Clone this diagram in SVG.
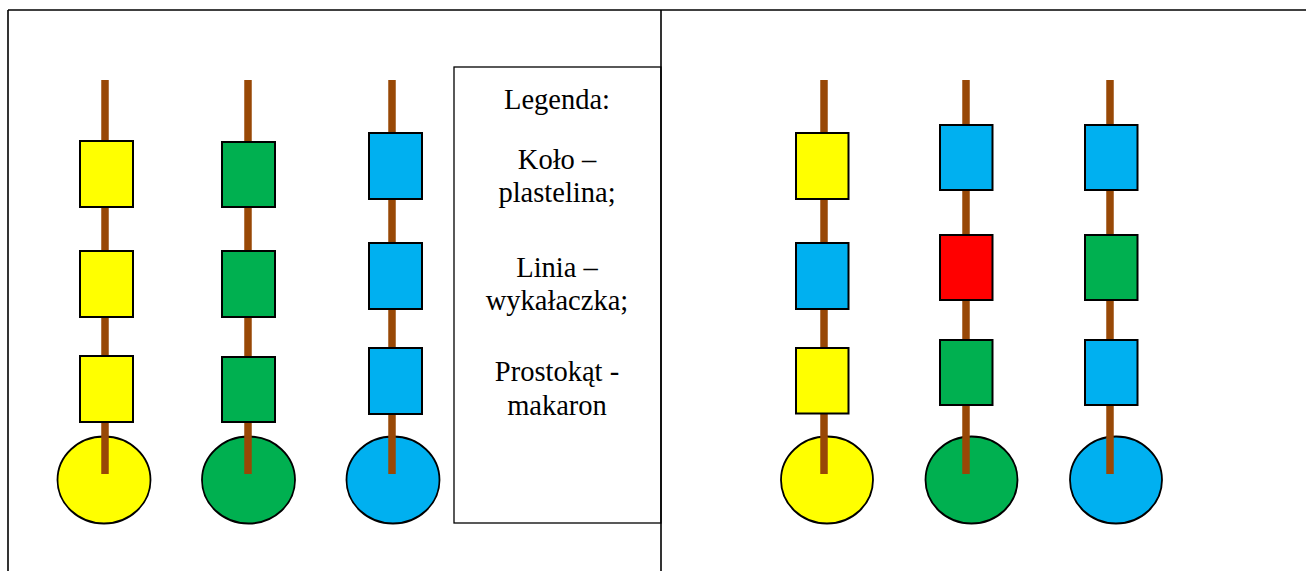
<svg xmlns="http://www.w3.org/2000/svg" width="1306" height="571" viewBox="0 0 1306 571">
<style>
.frame{stroke:#000;stroke-width:1.6;fill:none}
.stick{stroke:#984806;stroke-width:7.5}
.bead{stroke:#000;stroke-width:2}
.ball{stroke:#000;stroke-width:1.8}
.y{fill:#FFFF00}.g{fill:#00B050}.b{fill:#00B0F0}.r{fill:#FF0000}
.leg{font-family:"Liberation Serif","Times New Roman",serif;font-size:28.5px;fill:#000;text-anchor:middle}
</style>
<rect width="1306" height="571" fill="#fff"/>
<g id="table">
<line class="frame" x1="8" y1="10" x2="1306" y2="10"/>
<line class="frame" x1="8" y1="10" x2="8" y2="571"/>
<line class="frame" x1="661" y1="10" x2="661" y2="571"/>
</g>
<g id="skewer-l1">
<ellipse class="ball y" cx="104" cy="480" rx="46.5" ry="43.5"/>
<line class="stick" x1="105" y1="80" x2="105" y2="474"/>
<rect class="bead y" x="80" y="141" width="53" height="66"/>
<rect class="bead y" x="80" y="251" width="53" height="66"/>
<rect class="bead y" x="80" y="356" width="53" height="66"/>
</g>
<g id="skewer-l2">
<ellipse class="ball g" cx="248.5" cy="480" rx="46.5" ry="43.5"/>
<line class="stick" x1="248" y1="80" x2="248" y2="474"/>
<rect class="bead g" x="222" y="142" width="53" height="65"/>
<rect class="bead g" x="222" y="251" width="53" height="66"/>
<rect class="bead g" x="222" y="357" width="53" height="65"/>
</g>
<g id="skewer-l3">
<ellipse class="ball b" cx="393" cy="480" rx="46.5" ry="43.5"/>
<line class="stick" x1="392" y1="80" x2="392" y2="474"/>
<rect class="bead b" x="369" y="133" width="53" height="66"/>
<rect class="bead b" x="369" y="243" width="53" height="66"/>
<rect class="bead b" x="369" y="348" width="53" height="66"/>
</g>
<g id="legend">
<rect class="frame" x="454" y="67" width="207" height="456" style="stroke-width:1.3"/>
<text class="leg" x="557" y="109">Legenda:</text>
<text class="leg" x="557" y="169">Koło –</text>
<text class="leg" x="557" y="202">plastelina;</text>
<text class="leg" x="557" y="277">Linia –</text>
<text class="leg" x="557" y="310">wykałaczka;</text>
<text class="leg" x="557" y="381">Prostokąt -</text>
<text class="leg" x="557" y="415">makaron</text>
</g>
<g id="skewer-r1">
<ellipse class="ball y" cx="827" cy="480" rx="46" ry="43.5"/>
<line class="stick" x1="824" y1="80" x2="824" y2="474"/>
<rect class="bead y" x="796" y="133" width="52.5" height="66"/>
<rect class="bead b" x="796" y="243" width="52.5" height="66"/>
<rect class="bead y" x="796" y="348" width="52.5" height="65.5"/>
</g>
<g id="skewer-r2">
<ellipse class="ball g" cx="971.5" cy="480" rx="46" ry="43.5"/>
<line class="stick" x1="966" y1="80" x2="966" y2="474"/>
<rect class="bead b" x="940" y="125" width="52.5" height="65"/>
<rect class="bead r" x="940" y="235" width="52.5" height="65"/>
<rect class="bead g" x="940" y="340" width="52.5" height="65"/>
</g>
<g id="skewer-r3">
<ellipse class="ball b" cx="1116" cy="480" rx="46" ry="43.5"/>
<line class="stick" x1="1110" y1="80" x2="1110" y2="474"/>
<rect class="bead b" x="1085" y="125" width="52.5" height="65"/>
<rect class="bead g" x="1085" y="235" width="52.5" height="65"/>
<rect class="bead b" x="1085" y="340" width="52.5" height="65"/>
</g>
</svg>
